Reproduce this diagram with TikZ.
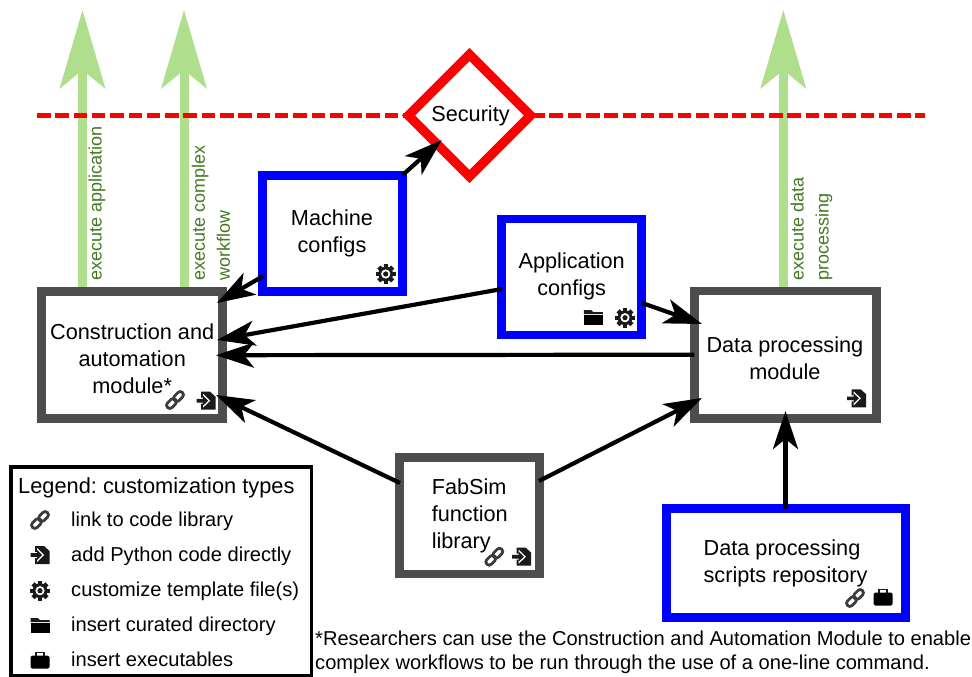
\documentclass[tikz,border=0pt]{standalone}
\usepackage{fontspec}
\setmainfont{Liberation Sans}
\usetikzlibrary{arrows.meta,shapes.geometric}
\definecolor{boxgray}{HTML}{4D4D4D}
\definecolor{boxblue}{HTML}{0000FF}
\definecolor{arrowgreen}{HTML}{AFDE8C}
\definecolor{labelgreen}{HTML}{447821}
\definecolor{icondark}{HTML}{1A1A1A}
\frenchspacing
\newcommand{\boxtext}[4]{\makebox[0pt]{\kern#1pt\raisebox{\dimexpr-8pt-#2pt\relax}[0pt][0pt]{\begin{tabular}{@{}#3@{}}#4\end{tabular}}}}
\tikzset{
  x=1pt,y=-1pt,
  basebox/.style={rectangle,draw,fill=white,inner sep=0pt,outer sep=0pt,line width=8.7pt,font=\fontsize{21.7}{27}\selectfont},
  graybox/.style={basebox,draw=boxgray},
  bluebox/.style={basebox,draw=boxblue},
  secshape/.style={diamond,aspect=1,draw=red,fill=white,line width=9.3pt,inner sep=0pt,outer sep=0pt,minimum size=122pt,font=\fontsize{21.7}{27}\selectfont},
  conn/.style={draw=black,line width=4.2pt,-{Stealth[length=38pt,width=25pt,inset=10pt]}},
  exec/.style={draw=arrowgreen,line width=9pt,-{Stealth[length=78pt,width=45pt,inset=18pt]}},
  boundary/.style={draw=red,line width=4.6pt,dash pattern=on 13.5pt off 4.8pt},
  execlabel/.style={rotate=90,anchor=west,inner sep=0pt,align=left,text=labelgreen,font=\fontsize{18}{25}\selectfont},
  legendbox/.style={rectangle,draw=black,fill=white,line width=3.6pt,inner sep=0pt,outer sep=0pt},
  legtext/.style={anchor=base west,inner sep=0pt,font=\fontsize{20.1}{25}\selectfont},
  notetext/.style={anchor=west,inner sep=0pt,align=left,font=\fontsize{20.1}{24.4}\selectfont},
  ilink/.pic={
    \begin{scope}[rotate=45]
      \draw[icondark!85,line width=2.8pt,rounded corners=3pt] (-10.5,-3.2) rectangle (0.5,3.2);
      \draw[icondark!85,line width=2.8pt,rounded corners=3pt] (-0.5,-3.2) rectangle (10.5,3.2);
    \end{scope}
  },
  isign/.pic={
    \fill[icondark] (-5,-9) -- (4,-9) -- (9.5,-4) -- (9.5,9) -- (-5,9) -- cycle;
    \fill[white] (-10,-3) -- (-3,-3) -- (-3,-7) -- (4.2,0) -- (-3,7) -- (-3,3) -- (-10,3) -- cycle;
    \fill[icondark] (-9.5,-1.8) -- (-3,-1.8) -- (-3,-5) -- (2.2,0) -- (-3,5) -- (-3,1.8) -- (-9.5,1.8) -- cycle;
  },
  igear/.pic={
    \foreach \a in {0,45,...,315}{\fill[icondark,rotate=\a] (-2.2,-9.8) rectangle (2.2,0);}
    \fill[icondark] (0,0) circle (7.4);
    \fill[white] (0,0) circle (4.6);
    \fill[icondark] (0,0) circle (2.6);
  },
  ifolder/.pic={
    \fill[icondark] (-9.5,-7.5) -- (-2,-7.5) -- (0,-5.5) -- (9.5,-5.5) -- (9.5,-3.6) -- (-9.5,-3.6) -- cycle;
    \fill[black] (-9.5,-2.4) rectangle (9.5,7.5);
  },
  icase/.pic={
    \draw[icondark,line width=1.6pt] (-4,-4) -- (-4,-7.5) -- (4,-7.5) -- (4,-4);
    \fill[black,rounded corners=1.5pt] (-9.5,-4.5) rectangle (9.5,8.5);
  },
}
\begin{document}
\begin{tikzpicture}
\useasboundingbox (0,0) rectangle (972,677);
% boxes
\node[graybox,minimum width=181pt,minimum height=127pt] (cons) at (132.2,355.2) {\boxtext{0}{3.3}{c}{Construction and\\automation\\module*}};
\node[bluebox,minimum width=139.6pt,minimum height=116.4pt] (mach) at (332.5,233.5) {\boxtext{-1}{-3.2}{c}{Machine\\configs}};
\node[bluebox,minimum width=140pt,minimum height=116pt] (appc) at (571.7,277) {\boxtext{0}{-3.5}{c}{Application\\configs}};
\node[graybox,minimum width=182pt,minimum height=127.4pt] (data) at (785.3,354.7) {\boxtext{-0.8}{3.3}{c}{Data processing\\module}};
\node[graybox,minimum width=140.4pt,minimum height=116.3pt] (fabs) at (469.5,515.8) {\boxtext{0.5}{-2.3}{l}{FabSim\\function\\library}};
\node[bluebox,minimum width=239pt,minimum height=108.7pt] (scri) at (786.2,563) {\boxtext{-1.2}{-1.8}{l}{Data processing\\scripts repository}};
% green execution arrows
\coordinate (g1) at (82.5,10);
\coordinate (g2) at (184,10);
\coordinate (g3) at (783.3,10);
\draw[exec] ([shift={(-49.7,-4.3)}]cons.north) -- (g1);
\draw[exec] ([shift={(51.8,-4.3)}]cons.north) -- (g2);
\draw[exec] ([shift={(-2,-4.3)}]data.north) -- (g3);
\node[execlabel] (l1) at (97,281) {execute application};
\node[execlabel] (l2) at (211,281) {execute complex\\workflow};
\node[execlabel] (l3) at (811.5,281) {execute data\\processing};
% security boundary
\coordinate (bl) at (37,115.7);
\coordinate (br) at (925,115.7);
\draw[boundary] (bl) -- (br);
\node[secshape] (sec) at (469.5,115.5) {\boxtext{2}{-2}{c}{Security}};
% connectors
\draw[conn] (mach.north east) -- ([shift={(-27.8,24.5)}]sec.center);
\draw[conn] ([shift={(0.5,42.5)}]mach.west) -- ([shift={(-5.7,-52.2)}]cons.east);
\draw[conn] ([shift={(0.3,12)}]appc.west) -- ([shift={(-5.7,-15.2)}]cons.east);
\draw[conn] (data.west) -- ([shift={(-6.7,0)}]cons.east);
\draw[conn] ([shift={(0.7,-32.8)}]fabs.west) -- ([shift={(-6.7,39.8)}]cons.east);
\draw[conn] ([shift={(-0.7,-34.8)}]fabs.east) -- ([shift={(7.7,43.3)}]data.west);
\draw[conn] ([shift={(0.3,26)}]appc.east) -- ([shift={(7.7,-30.7)}]data.west);
\draw[conn] ([xshift=-0.7pt]scri.north) -- ([shift={(0.2,-7.4)}]data.south);
% icons in boxes
\pic at (175,400) {ilink};
\pic at (206,400.7) {isign};
\pic at (385.7,274) {igear};
\pic at (593.3,317.7) {ifolder};
\pic at (625,317.7) {igear};
\pic at (856.7,398.3) {isign};
\pic at (494.3,556.7) {ilink};
\pic at (521.7,556.7) {isign};
\pic at (855,598) {ilink};
\pic at (883,597) {icase};
% legend
\node[legendbox,minimum width=300.3pt,minimum height=208.5pt] (leg) at (161.2,571.25) {};
\node[anchor=base west,inner sep=0pt,font=\fontsize{21.8}{27}\selectfont] (legt) at (18,493.3) {Legend: customization types};
\pic at (40,520) {ilink};
\pic at (40,555) {isign};
\pic at (40,590.7) {igear};
\pic at (40,625.7) {ifolder};
\pic at (40,660) {icase};
\node[legtext] (t1) at (71,526) {link to code library};
\node[legtext] (t2) at (71,561) {add Python code directly};
\node[legtext] (t3) at (71,596) {customize template file(s)};
\node[legtext] (t4) at (71,631) {insert curated directory};
\node[legtext] (t5) at (71,666.5) {insert executables};
\node[notetext] (note) at (315,652) {*Researchers can use the Construction and Automation Module to enable\\complex workflows to be run through the use of a one-line command.};
\end{tikzpicture}
\end{document}
